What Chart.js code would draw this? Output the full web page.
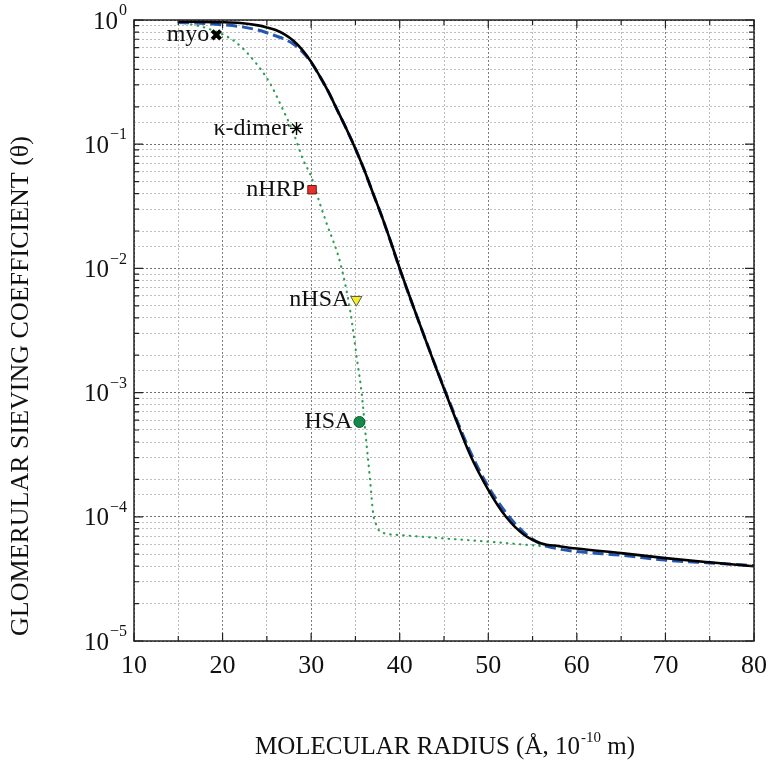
<!DOCTYPE html>
<html>
<head>
<meta charset="utf-8">
<script src="https://cdn.jsdelivr.net/npm/chart.js@4"></script>
<style>
html,body{margin:0;padding:0;background:#fff;}
#wrap{width:771px;height:772px;position:relative;}
</style>
</head>
<body>
<div id="wrap"><canvas id="c" width="771" height="772"></canvas></div>
<script>
// ---- data ----
const modelX = [15, 17, 20, 22, 24, 25, 26, 27, 28, 29, 30, 31, 32, 33, 34, 35, 36, 37, 38, 39, 40, 42, 44, 46, 48, 50, 52, 54, 56, 58, 60, 65, 70, 75, 80];
const modelY = [0.97, 0.967, 0.96, 0.945, 0.905, 0.872, 0.83, 0.765, 0.68, 0.575, 0.46, 0.35, 0.26, 0.185, 0.132, 0.092, 0.062, 0.040, 0.026, 0.0163, 0.0100, 0.0040, 0.00165, 0.00070, 0.00031, 0.000165, 0.000100, 0.000072, 0.000061, 0.000058, 0.0000555, 0.000051, 0.0000465, 0.000043, 0.0000400];

const fitX = [15, 17, 20, 22, 24, 25, 26, 27, 28, 29, 30, 31, 32, 33, 34, 35, 36, 37, 38, 39, 40, 42, 44, 46, 48, 50, 52, 54, 56, 58, 60, 65, 70, 75, 80];
const fitY = [0.955, 0.945, 0.915, 0.885, 0.83, 0.79, 0.745, 0.70, 0.64, 0.555, 0.455, 0.35, 0.26, 0.185, 0.132, 0.092, 0.062, 0.040, 0.026, 0.0162, 0.0099, 0.0040, 0.00167, 0.00072, 0.00033, 0.000175, 0.000108, 0.000075, 0.000060, 0.000055, 0.0000525, 0.000049, 0.0000448, 0.0000425, 0.0000405];

const dataFitX = [15, 16.9, 18.8, 21.4, 23.66, 25.35, 26.67, 28, 29.1, 30, 31, 31.75, 33.3, 34.4, 35.2, 35.7, 36.2, 36.65, 37.0, 37.4, 37.8, 40, 45, 50, 55, 57];
const dataFitY = [0.96, 0.91, 0.83, 0.67, 0.46, 0.31, 0.20, 0.123, 0.075, 0.055, 0.033, 0.023, 0.011, 0.0046, 0.0018, 0.001, 0.00042, 0.0002, 0.000107, 0.000085, 0.000076, 0.0000713, 0.000067, 0.000063, 0.000059, 0.0000575];

const proteinNames = ["myo", "κ-dimer", "nHRP", "nHSA", "HSA"];
const proteinX = [19.3, 28.35, 30.1, 35.1, 35.45];
const proteinY = [0.76, 0.134, 0.043, 0.0056, 0.00058];

const xTickLabels = ["10", "20", "30", "40", "50", "60", "70", "80"];
const yTickExponents = ["0", "\u22121", "\u22122", "\u22123", "\u22124", "\u22125"];
const xTitle = ["MOLECULAR RADIUS (Å, 10", "-10", " m)"];
const yTitle = "GLOMERULAR SIEVING COEFFICIENT (θ)";

// ---- build ----
const zip = (xs, ys) => xs.map((x, i) => ({x: x, y: ys[i]}));
const SERIF = '"Liberation Serif","DejaVu Serif",serif';

const markerStyles = [
  {pointStyle: 'crossRot', radius: 6, bg: '#000', border: '#000', bw: 4, rot: 0},
  {pointStyle: 'star', radius: 6.5, bg: '#000', border: '#000', bw: 1.4, rot: 0},
  {pointStyle: 'rect', radius: 6, bg: '#e8302c', border: '#6a1b12', bw: 1, rot: 0},
  {pointStyle: 'triangle', radius: 6.5, bg: '#f4f020', border: '#555', bw: 1, rot: 180},
  {pointStyle: 'circle', radius: 5.5, bg: '#138a4a', border: '#0a5a2e', bw: 1, rot: 0}
];

const markerDatasets = proteinNames.map((n, i) => ({
  label: n,
  type: 'scatter',
  data: [{x: proteinX[i], y: proteinY[i]}],
  pointStyle: markerStyles[i].pointStyle,
  pointRadius: markerStyles[i].radius,
  pointBackgroundColor: markerStyles[i].bg,
  pointBorderColor: markerStyles[i].border,
  pointBorderWidth: markerStyles[i].bw,
  pointRotation: markerStyles[i].rot,
  showLine: false,
  order: 0
}));

const decorPlugin = {
  id: 'decor',
  afterDraw(chart) {
    const ctx = chart.ctx;
    const a = chart.chartArea;
    const xs = chart.scales.x, ys = chart.scales.y;
    ctx.save();
    // frame
    ctx.strokeStyle = '#222';
    ctx.lineWidth = 1.5;
    ctx.strokeRect(a.left, a.top, a.right - a.left, a.bottom - a.top);
    // inner ticks x
    ctx.lineWidth = 1.2;
    for (let v = 10; v <= 80; v += 5) {
      const px = xs.getPixelForValue(v);
      const len = (v % 10 === 0) ? 8 : 5;
      ctx.beginPath();
      ctx.moveTo(px, a.bottom); ctx.lineTo(px, a.bottom - len);
      ctx.moveTo(px, a.top); ctx.lineTo(px, a.top + len);
      ctx.stroke();
    }
    // inner ticks y
    for (let e = -5; e <= 0; e++) {
      for (let m = 1; m <= 9; m++) {
        const val = m * Math.pow(10, e);
        if (val > 1.0000001) break;
        const py = ys.getPixelForValue(val);
        const len = (m === 1) ? 9 : 5;
        ctx.beginPath();
        ctx.moveTo(a.left, py); ctx.lineTo(a.left + len, py);
        ctx.moveTo(a.right, py); ctx.lineTo(a.right - len, py);
        ctx.stroke();
      }
    }
    // y tick labels
    ctx.fillStyle = '#111';
    ctx.textBaseline = 'middle';
    for (let k = 0; k < yTickExponents.length; k++) {
      const py = ys.getPixelForValue(Math.pow(10, -k));
      ctx.font = '16px ' + SERIF;
      const ew = ctx.measureText(yTickExponents[k]).width;
      const right = a.left - 7;
      ctx.textAlign = 'left';
      ctx.fillText(yTickExponents[k], right - ew, py - 9);
      ctx.font = '25px ' + SERIF;
      ctx.textAlign = 'right';
      ctx.fillText('10', right - ew - 1, py + 2);
    }
    // x title
    ctx.font = '25px ' + SERIF;
    const w1 = ctx.measureText(xTitle[0]).width;
    const w3 = ctx.measureText(xTitle[2]).width;
    ctx.font = '15px ' + SERIF;
    const w2 = ctx.measureText(xTitle[1]).width;
    const total = w1 + w2 + w3 + 1;
    let sx = 445 - total / 2;
    const ty = 747;
    ctx.textAlign = 'left';
    ctx.font = '25px ' + SERIF;
    ctx.fillText(xTitle[0], sx, ty);
    ctx.font = '15px ' + SERIF;
    ctx.fillText(xTitle[1], sx + w1 + 1, ty - 9);
    ctx.font = '25px ' + SERIF;
    ctx.fillText(xTitle[2], sx + w1 + w2 + 1, ty);
    // y title
    ctx.save();
    ctx.translate(21, 386);
    ctx.rotate(-Math.PI / 2);
    ctx.textAlign = 'center';
    ctx.font = '26px ' + SERIF;
    ctx.fillText(yTitle, 0, 0);
    ctx.restore();
    // marker labels
    ctx.font = '24px ' + SERIF;
    ctx.textAlign = 'right';
    ctx.fillStyle = '#111';
    for (let i = 0; i < proteinNames.length; i++) {
      const px = xs.getPixelForValue(proteinX[i]);
      const py = ys.getPixelForValue(proteinY[i]);
      ctx.fillText(proteinNames[i], px - 7, py);
    }
    ctx.restore();
  }
};

const gridColorX = (c) => (c.tick && c.tick.value % 10 === 0) ? 'rgba(110,110,110,0.9)' : 'rgba(170,170,170,0.8)';
const gridColorY = (c) => {
  if (!c.tick) return '#bbb';
  const l = Math.log10(c.tick.value);
  return Math.abs(l - Math.round(l)) < 1e-6 ? 'rgba(100,100,100,0.9)' : 'rgba(175,175,175,0.8)';
};

new Chart(document.getElementById('c'), {
  type: 'line',
  data: {
    datasets: [
      ...markerDatasets,
      {
        label: 'model',
        data: zip(modelX, modelY),
        borderColor: '#000',
        borderWidth: 2.6,
        pointRadius: 0,
        cubicInterpolationMode: 'monotone',
        fill: false,
        order: 1
      },
      {
        label: 'fit',
        data: zip(fitX, fitY),
        borderColor: '#2357b0',
        borderWidth: 3,
        borderDash: [11, 5],
        pointRadius: 0,
        cubicInterpolationMode: 'monotone',
        fill: false,
        order: 2
      },
      {
        label: 'data fit',
        data: zip(dataFitX, dataFitY),
        borderColor: '#2f9e55',
        borderWidth: 2.2,
        borderDash: [0.5, 6],
        borderCapStyle: 'round',
        pointRadius: 0,
        cubicInterpolationMode: 'monotone',
        fill: false,
        order: 3
      }
    ]
  },
  options: {
    responsive: false,
    animation: false,
    events: [],
    layout: {padding: {left: 0, right: 17, top: 20, bottom: 0}},
    plugins: {legend: {display: false}, tooltip: {enabled: false}},
    scales: {
      x: {
        type: 'linear',
        min: 10, max: 80,
        afterFit(s) { s.height = 131; s.paddingLeft = 0; s.paddingRight = 0; },
        ticks: {
          stepSize: 5,
          autoSkip: false,
          maxRotation: 0,
          color: '#111',
          padding: 10,
          font: {family: SERIF, size: 26},
          callback: (v) => (v % 10 === 0) ? xTickLabels[(v - 10) / 10] : ''
        },
        grid: {color: gridColorX, lineWidth: 1, drawTicks: false},
        border: {display: false, dash: [2, 2]}
      },
      y: {
        type: 'logarithmic',
        min: 1e-5, max: 1,
        afterFit(s) { s.width = 134; s.paddingTop = 0; s.paddingBottom = 0; },
        ticks: {display: false},
        grid: {color: gridColorY, lineWidth: 1, drawTicks: false},
        border: {display: false, dash: [2, 2]}
      }
    }
  },
  plugins: [decorPlugin]
});
</script>
</body>
</html>
